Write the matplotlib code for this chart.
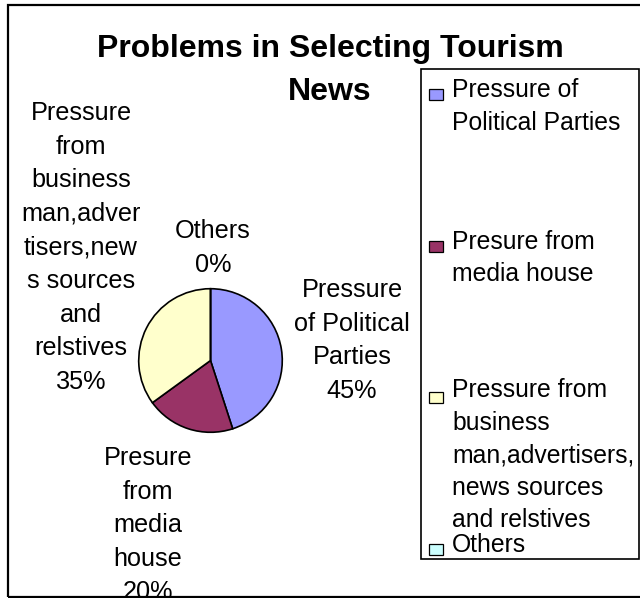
import matplotlib
matplotlib.use("Agg")
import matplotlib.pyplot as plt
from matplotlib.patches import Rectangle

# ---- data ----
categories = [
    "Pressure of Political Parties",
    "Presure from media house",
    "Pressure from business man,advertisers, news sources and relstives",
    "Others",
]
values = [45, 20, 35, 0]
colors = ["#9999FF", "#993366", "#FFFFCC", "#CCFFFF"]
pie_labels = [
    "Pressure\nof Political\nParties",
    "Presure\nfrom\nmedia\nhouse",
    "Pressure\nfrom\nbusiness\nman,adver\ntisers,new\ns sources\nand\nrelstives",
    "Others",
]
legend_labels = [
    "Pressure of\nPolitical Parties",
    "Presure from\nmedia house",
    "Pressure from\nbusiness\nman,advertisers,\nnews sources\nand relstives",
    "Others",
]
title = "Problems in Selecting Tourism\nNews"

W, H = 640, 598
plt.rcParams["font.family"] = ["Liberation Sans", "DejaVu Sans"]
fig = plt.figure(figsize=(W / 100, H / 100), dpi=100)
fig.patch.set_facecolor("white")


def fx(x):
    return x / W


def fy(y):
    return 1 - y / H


K = 1.227  # px of line advance per pt per unit linespacing (empirical)


def place(txt, x, first_base, spacing, fs, ha="center", k=K, **kw):
    n = txt.count("\n") + 1
    last = first_base + (n - 1) * spacing
    return fig.text(fx(x), fy(last), txt, ha=ha, va="baseline", fontsize=fs,
                    linespacing=spacing / (k * fs), multialignment=ha, **kw)


# outer chart border
fig.add_artist(Rectangle((fx(8), fy(597)), fx(645) - fx(8), fy(5) - fy(597),
                         transform=fig.transFigure, fill=False,
                         edgecolor="black", lw=1.6, clip_on=False))

# pie
cx, cy, r = 210.5, 360.5, 72.5
ax = fig.add_axes([fx(cx - r), fy(cy + r), 2 * r / W, 2 * r / H])
ax.pie(values, colors=colors, startangle=90, counterclock=False,
       wedgeprops=dict(edgecolor="black", linewidth=1.2))
ax.set_xlim(-1.01, 1.01)
ax.set_ylim(-1.01, 1.01)
ax.set_aspect("equal")
ax.axis("off")

total = sum(values)
pct = [f"{round(v / total * 100)}%" for v in values]

LFS = 18.2
# label positions (pixel center x, first-line baseline y)
label_pos = [(352, 297), (148, 465), (81, 120), (213, 238)]
for lab, p, (x, y) in zip(pie_labels, pct, label_pos):
    place(f"{lab}\n{p}", x, y, 33.6, LFS)

# title (two centred lines)
for j, line in enumerate(title.split("\n")):
    fig.text(fx(330), fy(57 + 43 * j), line, ha="center", va="baseline",
             fontsize=23, fontweight="bold")

# legend
fig.add_artist(Rectangle((fx(421), fy(559)), fx(639) - fx(421), fy(69) - fy(559),
                         transform=fig.transFigure, fill=True, facecolor="white",
                         edgecolor="black", lw=1.2, zorder=2))
for i, (lab, col) in enumerate(zip(legend_labels, colors)):
    by = 98 + i * 151.5
    fig.add_artist(Rectangle((fx(429), fy(by + 2)), 14 / W, 11 / H,
                             transform=fig.transFigure, facecolor=col,
                             edgecolor="black", lw=0.9, zorder=3))
    place(lab, 452, by, 31.5, 17.8, ha="left", zorder=4)

fig.savefig("out.png", dpi=100, facecolor="white")
